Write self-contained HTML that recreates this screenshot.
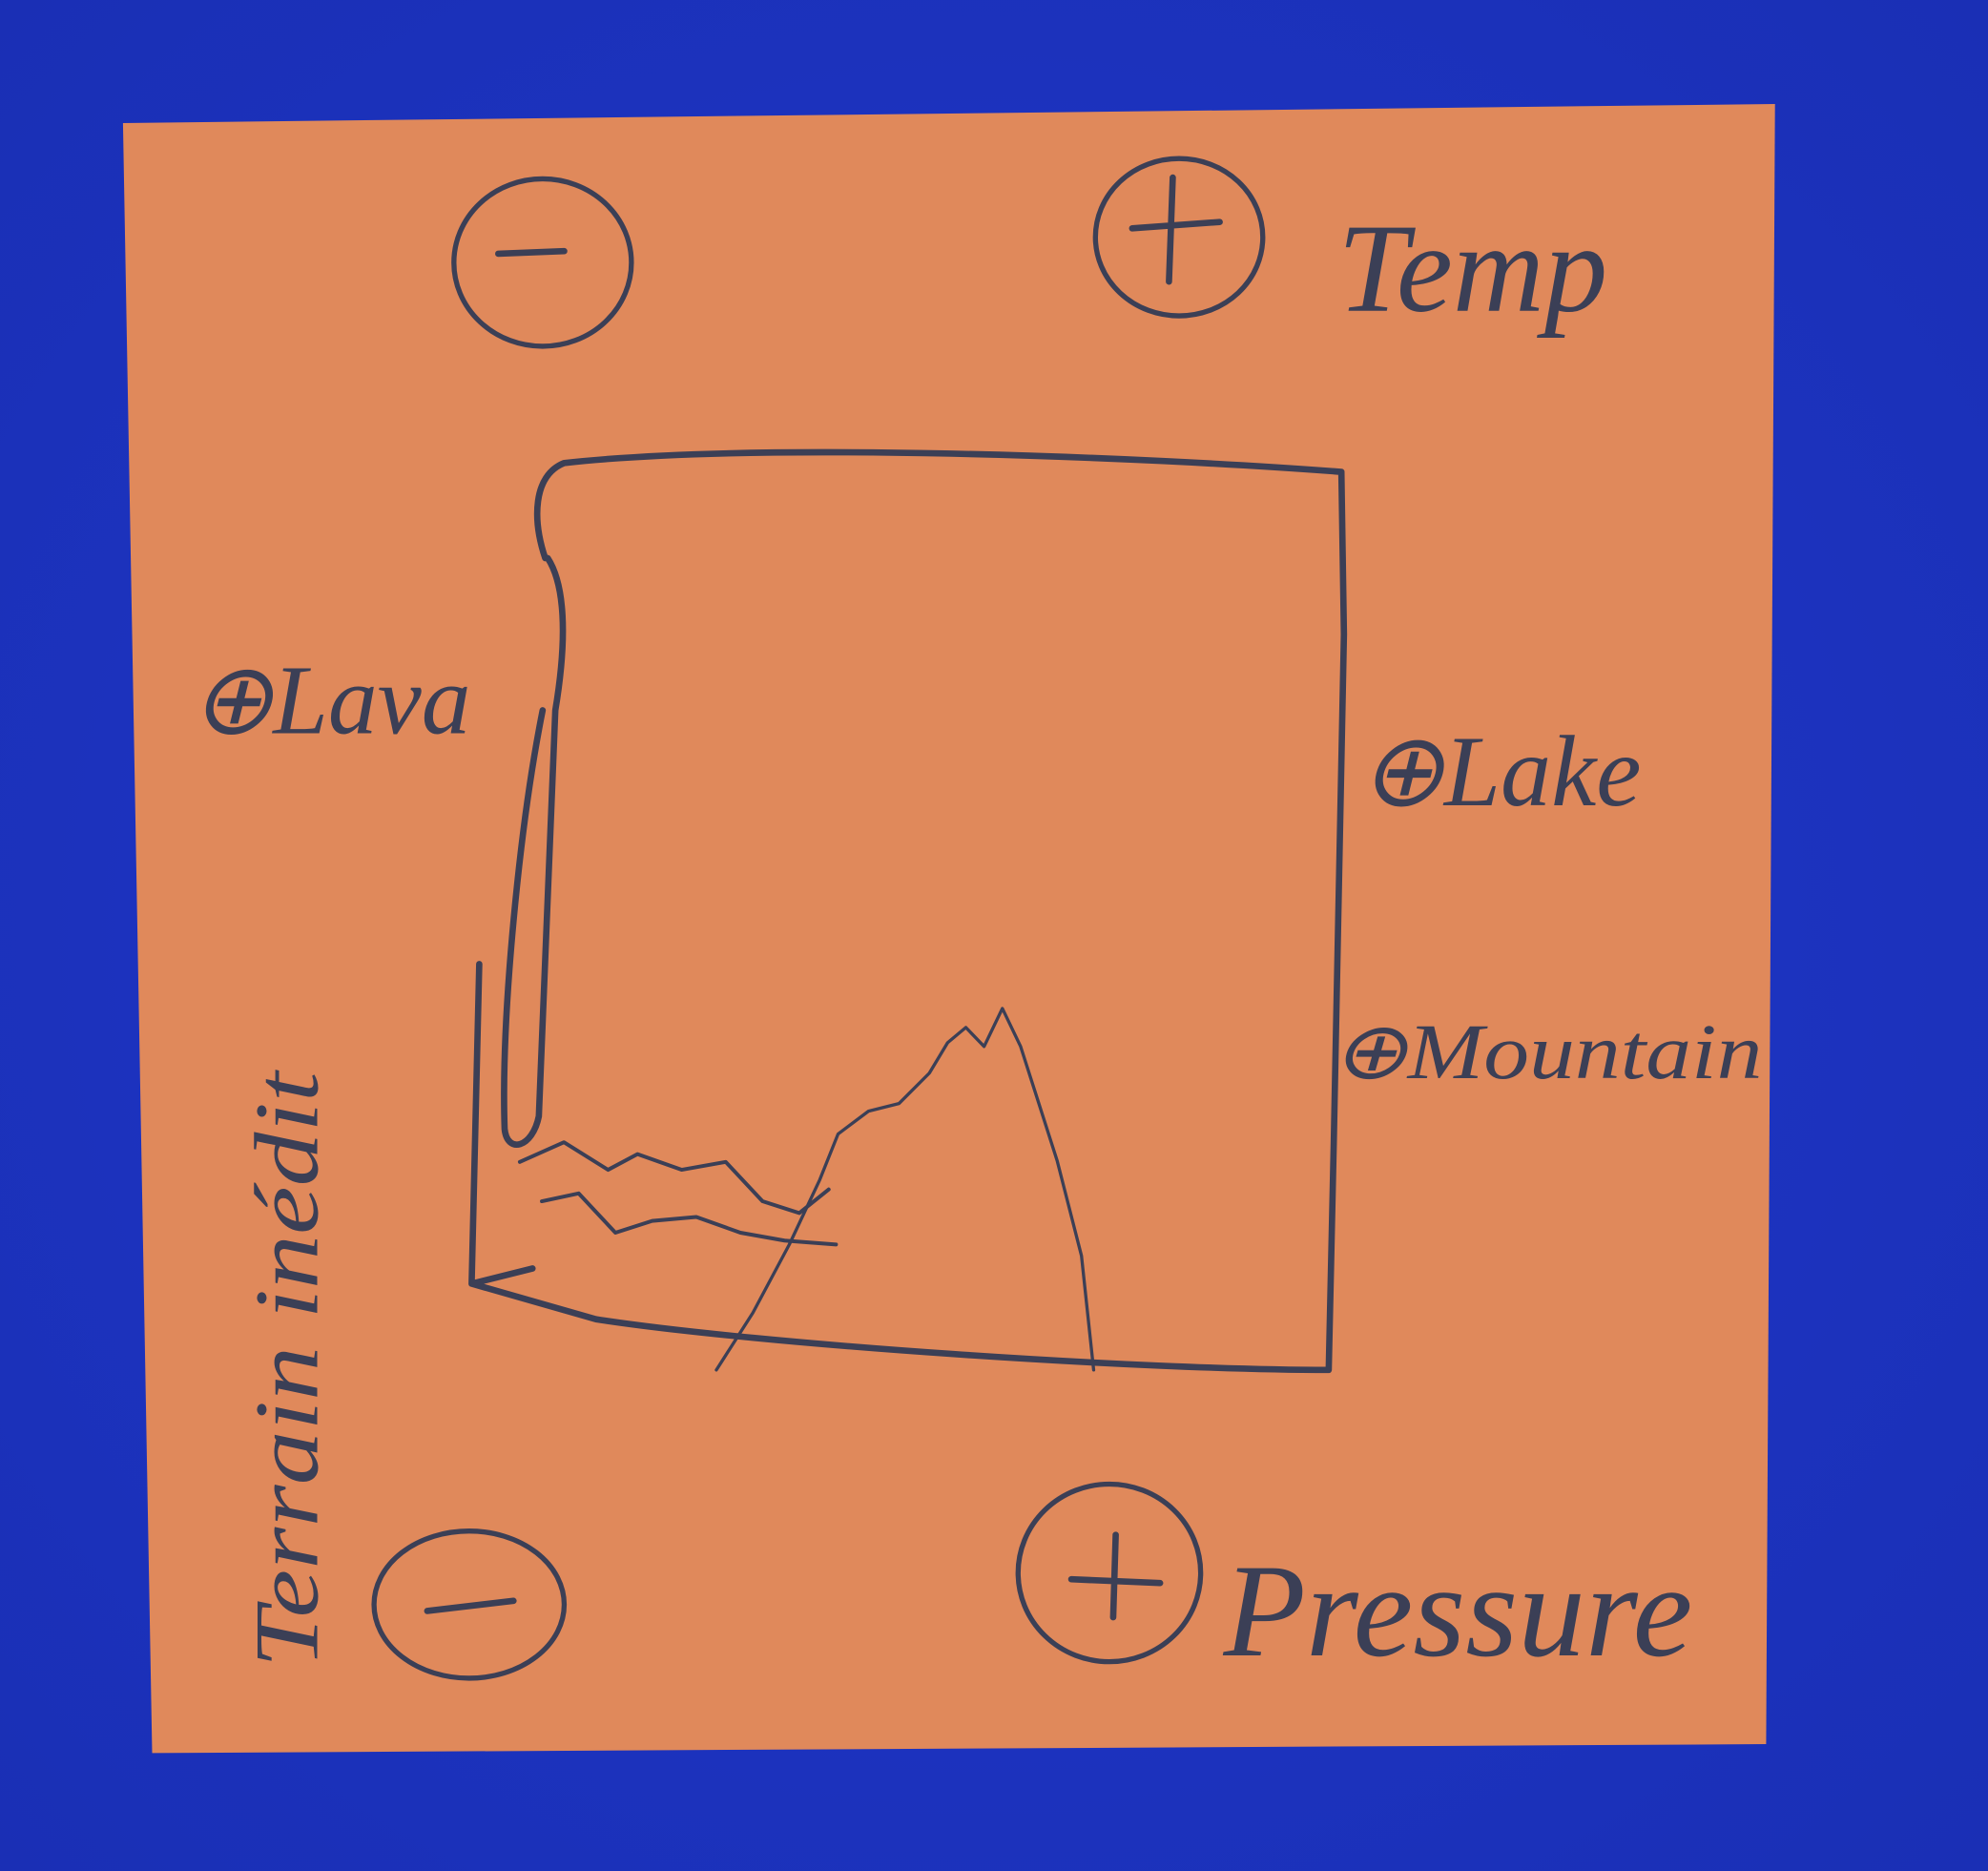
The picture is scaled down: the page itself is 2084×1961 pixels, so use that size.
<!DOCTYPE html>
<html><head><meta charset="utf-8">
<style>
html,body{margin:0;padding:0;background:#1c33c2;}
svg{display:block;}
text{font-family:"Liberation Serif",serif;font-style:italic;fill:#3b3f56;}
</style></head>
<body>
<svg id="sk" width="2084" height="1961" viewBox="0 0 1568 1475" preserveAspectRatio="none" xmlns="http://www.w3.org/2000/svg">
  <defs>
    <radialGradient id="bg" cx="50%" cy="50%" r="70%">
      <stop offset="0" stop-color="#1f38cc"/>
      <stop offset="1" stop-color="#1a2fb5"/>
    </radialGradient>
  </defs>
  <rect x="0" y="0" width="1568" height="1475" fill="url(#bg)"/>
  <polygon points="97,97 1400,82 1393,1375 120,1382" fill="#e0895b"/>
  <g id="ink" fill="none" stroke="#3b3f56" stroke-linecap="round" stroke-linejoin="round">
    <ellipse cx="428" cy="207" rx="70" ry="66" stroke-width="4"/>
    <line x1="393" y1="200" x2="445" y2="198" stroke-width="5"/>
    <ellipse cx="930" cy="187" rx="66" ry="62" stroke-width="4"/>
    <path d="M893 180 L962 175 M925 140 L922 222" stroke-width="5"/>
    <ellipse cx="370" cy="1265" rx="75" ry="58" stroke-width="4"/>
    <path d="M337 1270 L405 1262" stroke-width="5"/>
    <ellipse cx="875" cy="1240" rx="72" ry="70" stroke-width="4"/>
    <path d="M845 1245 L915 1248 M880 1210 L878 1275" stroke-width="5"/>
    <path d="M430 440 C420 410 420 375 445 365 C600 348 900 360 1058 372 L1060 500 L1052 900 L1048 1080 C900 1080 600 1060 470 1040 L372 1012 L378 760 M372 1012 L420 1000" stroke-width="5"/>
    <path d="M432 440 C445 460 448 500 438 560 L425 880 C420 905 400 910 398 890 C395 800 410 650 428 560" stroke-width="5"/>
    <path id="mountain" stroke-width="2.5"/>
    <path id="lava" stroke-width="3"/>
    <path id="lake" stroke-width="3"/>
  </g>
  <text x="1055" y="245" font-size="100">Temp</text>
  <text x="150" y="578" font-size="78">⊕Lava</text>
  <text x="1072" y="635" font-size="80">⊕Lake</text>
  <text x="1050" y="850" font-size="62" textLength="340" lengthAdjust="spacingAndGlyphs">⊕Mountain</text>
  <text x="965" y="1305" font-size="105" textLength="370" lengthAdjust="spacingAndGlyphs">Pressure</text>
  <text transform="translate(250,1315) rotate(-90)" font-size="72" textLength="470" lengthAdjust="spacingAndGlyphs">Terrain inédit</text>
</svg>
<script>
// Sketch series (display-space units along a 0..1 axis)
const mountainX=[0.0,0.06,0.12,0.17,0.2,0.25,0.3,0.35,0.38,0.41,0.44,0.47,0.5,0.52,0.56,0.6,0.62];
const mountainY=[0.0,0.15,0.33,0.5,0.62,0.68,0.7,0.78,0.86,0.9,0.85,0.95,0.85,0.75,0.55,0.3,0.0];
const lavaX=[0.0,0.06,0.12,0.16,0.22,0.28,0.33,0.38,0.42];
const lavaY=[0.40,0.45,0.38,0.42,0.38,0.40,0.30,0.27,0.33];
const lakeX=[0.03,0.08,0.13,0.18,0.24,0.30,0.36,0.43];
const lakeY=[0.30,0.32,0.22,0.25,0.26,0.22,0.20,0.19];
// axes in display space: x 0..1 -> 565..860 (mountain) ; y 0..1 -> 1080..785
function mx(v){return 565+v*480;}
function my(v){return 1080-v*300;}
function pathOf(xs,ys,fx,fy){return xs.map((x,i)=>(i?'L':'M')+fx(x).toFixed(1)+' '+fy(ys[i]).toFixed(1)).join(' ');}
const lx=v=>410+v*580, ly=v=>1040-v*310;
document.getElementById('mountain').setAttribute('d',pathOf(mountainX,mountainY,mx,my));
document.getElementById('lava').setAttribute('d',pathOf(lavaX,lavaY,lx,ly));
document.getElementById('lake').setAttribute('d',pathOf(lakeX,lakeY,lx,ly));
</script>
</body></html>
